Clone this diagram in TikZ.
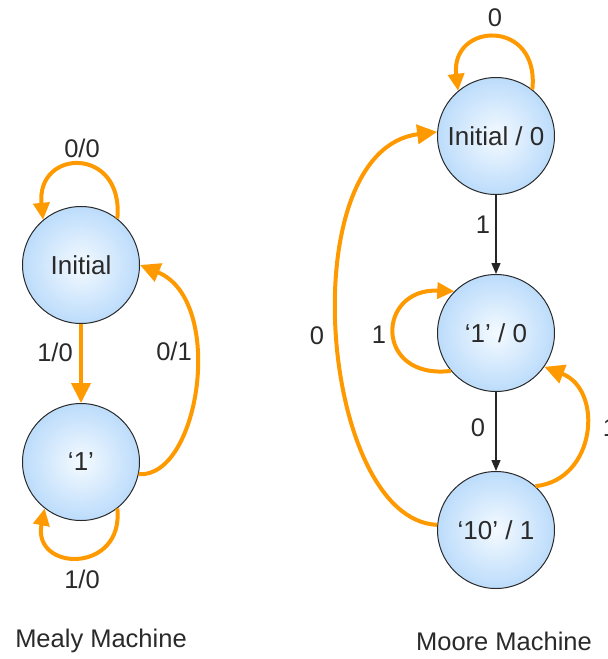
\documentclass[tikz,border=0pt]{standalone}
\usepackage{fontspec}
\setmainfont{Liberation Sans}
\usetikzlibrary{arrows.meta}
\definecolor{orng}{HTML}{FF9900}
\definecolor{cin}{HTML}{F4FAFF}
\definecolor{cmid}{HTML}{BCDCFB}
\definecolor{cout}{HTML}{98C9F5}
\definecolor{txt}{HTML}{2A2A2A}
\definecolor{rim}{HTML}{2A2A2A}
\pgfdeclareradialshading{stateball}{\pgfpoint{0bp}{0bp}}{color(0bp)=(cin); color(25bp)=(cmid); color(50bp)=(cout); color(100bp)=(cout)}
\tikzset{
  statenode/.style={circle, draw=rim, line width=1pt, inner sep=0pt, minimum size=117pt,
    shading=stateball, text=txt, font=\fontsize{26}{30}\selectfont},
  lbl/.style={text=txt, font=\fontsize{25.5}{30}\selectfont, inner sep=0pt},
  oarr/.style={draw=orng, line width=4pt, -{Triangle[length=20pt,width=19pt]}},
  oloop/.style={draw=orng, line width=4pt, -{Triangle[length=17pt,width=16pt]}},
  barr/.style={draw=black!85, line width=1.3pt, -{Triangle[length=11pt,width=9pt]}}
}
\begin{document}
\begin{tikzpicture}[x=1pt,y=-1pt]
\useasboundingbox (0,0) rectangle (608,659);
% Mealy
\node[statenode] (A) at (81,265) {Initial};
\node[statenode] (B) at (81,462) {‘1’};
\draw[oloop] (A.52) .. controls (124,146) and (36,148) .. (A.130);
\draw[oarr] (A.south) -- (B.north);
\draw[oarr] (B.-12) .. controls (200,478) and (226,300) .. (A.east);
\draw[oloop] (B.-52) .. controls (124,574) and (32,572) .. (B.-128);
\node[lbl] (l1) at (82,148) {0/0};
\node[lbl] (l2) at (55,352) {1/0};
\node[lbl] (l3) at (174,351) {0/1};
\node[lbl] (l4) at (82,579) {1/0};
\node[lbl] (t1) at (101,641) {Mealy Machine};
% Moore
\node[statenode] (C) at (496,136) {Initial / 0};
\node[statenode] (D) at (496,333) {‘1’ / 0};
\node[statenode] (E) at (496,530) {‘10’ / 1};
\draw[oloop] (C.52) .. controls (540,18) and (450,22) .. (C.130);
\draw[barr] (C.south) -- (D.north);
\draw[barr] (D.south) -- (E.north);
\draw[oloop] (D.-140) .. controls (374,380) and (376,288) .. (D.135);
\draw[oarr] (E.48) .. controls (596,480) and (604,390) .. (D.-35);
\draw[oarr] (E.175) .. controls (320,520) and (290,150) .. (C.176);
\node[lbl] (m1) at (495,18) {0};
\node[lbl] (m2) at (483,225) {1};
\node[lbl] (m3) at (379,335) {1};
\node[lbl] (m4) at (478,428) {0};
\node[lbl] (m5) at (610,428) {1};
\node[lbl] (m6) at (317,336) {0};
\node[lbl] (t2) at (504,641) {Moore Machine};
\end{tikzpicture}
\end{document}
